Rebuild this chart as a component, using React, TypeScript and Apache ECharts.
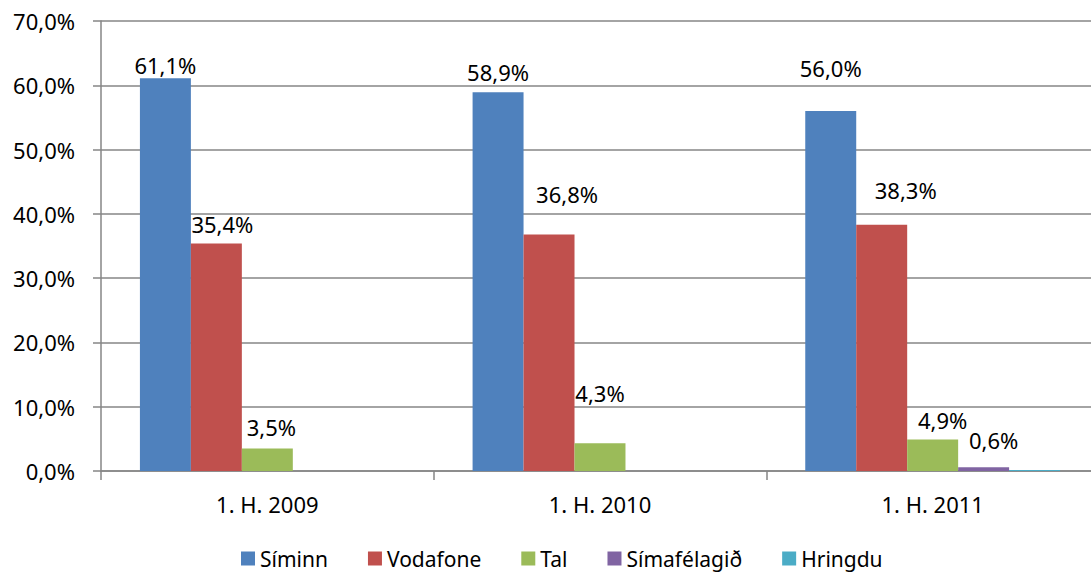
import React, { useEffect, useRef } from "react";
import * as echarts from "echarts";

const categories = ["1. H. 2009", "1. H. 2010", "1. H. 2011"];
const seriesNames = ["Síminn", "Vodafone", "Tal", "Símafélagið", "Hringdu"];
const siminn = [61.1, 58.9, 56.0];
const vodafone = [35.4, 36.8, 38.3];
const tal = [3.5, 4.3, 4.9];
const simafelagid = [null, null, 0.6];
const hringdu = [null, null, 0.15];
const yTicks = [0, 10, 20, 30, 40, 50, 60, 70];

const colors = ["#4F81BD", "#C0504D", "#9BBB59", "#8064A2", "#4BACC6"];
const labelOffsets: (number[] | null)[][] = [
  [[0, 3], [0, -4], [0, -27]],
  [[6, -3], [18, -24], [24, -19]],
  [[4, -6], [0, -34], [10, -4]],
  [null, null, [10, -11]],
  [null, null, null],
];
const showLabels = [true, true, true, true, false];

const fmt = (v: number) => v.toFixed(1).replace(".", ",") + "%";
const FONT = "'Noto Sans', sans-serif";

export default function App() {
  const ref = useRef<HTMLDivElement>(null);
  useEffect(() => {
    if (!ref.current) return;
    const chart = echarts.init(ref.current, undefined, { renderer: "svg" });
    const allData = [siminn, vodafone, tal, simafelagid, hringdu];
    const series = allData.map((vals, si) => ({
      name: seriesNames[si],
      type: "bar",
      barGap: "0%",
      barCategoryGap: "23.4%",
      itemStyle: { color: colors[si] },
      data: vals.map((v, ci) => {
        const off = labelOffsets[si][ci];
        return {
          value: v,
          label: {
            show: showLabels[si] && v !== null,
            position: "top",
            offset: off || [0, 0],
            formatter: (p: any) => fmt(p.value),
            fontSize: 22,
            fontFamily: FONT,
            color: "#000",
          },
        };
      }),
    }));
    chart.setOption({
      animation: false,
      color: colors,
      grid: { left: 101, top: 21, width: 998, height: 450, containLabel: false },
      legend: {
        top: 548,
        left: 241,
        padding: 0,
        itemWidth: 14,
        itemHeight: 14,
        itemGap: 40,
        icon: "rect",
        textStyle: { fontSize: 21, fontFamily: FONT, color: "#000", lineHeight: 21 },
        data: seriesNames,
      },
      xAxis: {
        type: "category",
        data: categories,
        axisLine: { show: true, lineStyle: { color: "#868686", width: 1.5 } },
        axisTick: { show: true, length: 9, lineStyle: { color: "#868686", width: 1.5 } },
        axisLabel: { fontSize: 22, fontFamily: FONT, color: "#000", margin: 22 },
      },
      yAxis: {
        type: "value",
        min: yTicks[0],
        max: yTicks[yTicks.length - 1],
        interval: 10,
        axisLine: { show: true, lineStyle: { color: "#868686", width: 1.5 } },
        axisTick: { show: true, length: 8, lineStyle: { color: "#868686", width: 1.5 } },
        splitLine: { show: true, lineStyle: { color: "#868686", width: 1.5 } },
        axisLabel: {
          fontSize: 22,
          fontFamily: FONT,
          color: "#000",
          margin: 26,
          formatter: (v: number) => fmt(v),
        },
      },
      series,
    });
    return () => chart.dispose();
  }, []);
  return (
    <div
      ref={ref}
      style={{ position: "fixed", left: 0, top: 0, width: 1100, height: 575, background: "#fff" }}
    />
  );
}
